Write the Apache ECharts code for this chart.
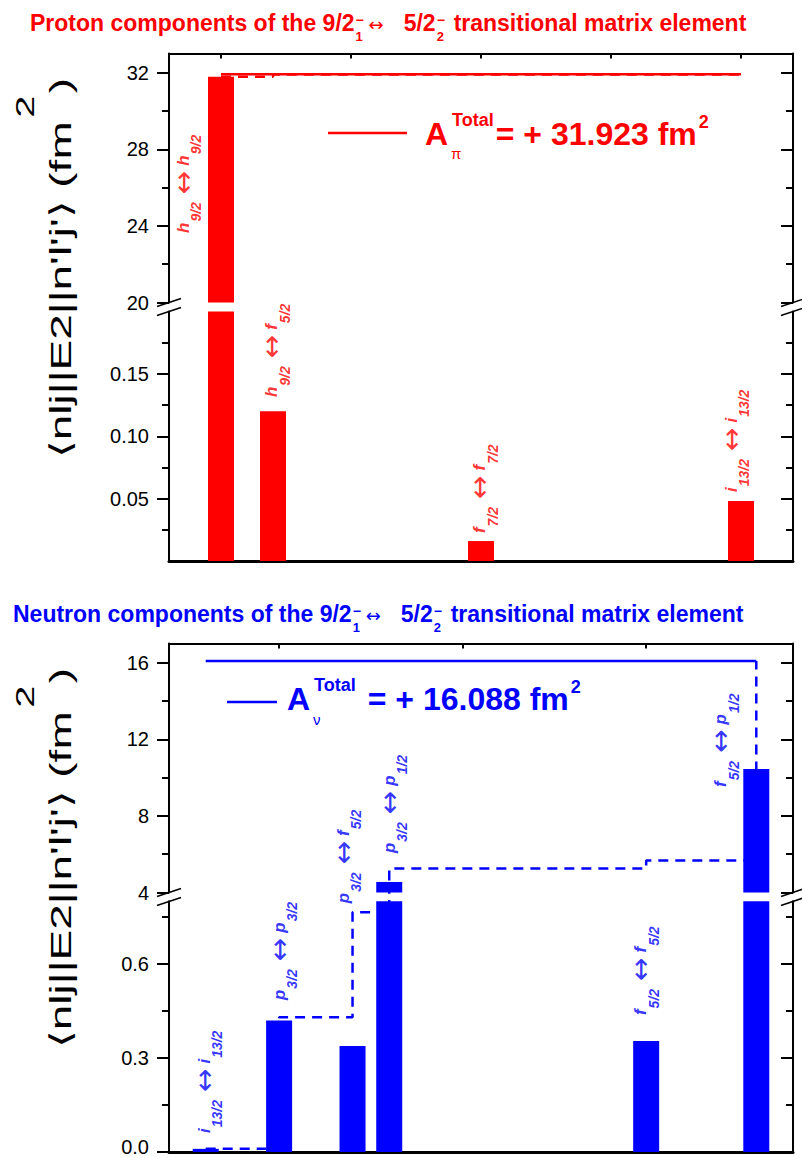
<!DOCTYPE html>
<html><head><meta charset="utf-8">
<script src="https://cdn.jsdelivr.net/npm/echarts@6/dist/echarts.min.js"></script>
<style>html,body{margin:0;padding:0;background:#fff}#c{width:802px;height:1158px}</style>
</head><body><div id="c"></div><script>
// ---------------- data ----------------
const protonX = [0, 2, 10, 20];
const protonValues = [31.79, 0.12, 0.016, 0.048];
const protonCumulative = [31.79, 31.90, 31.91, 31.923];
const protonTotal = 31.923;
const protonOrbitals = [['h','9/2','h','9/2'], ['h','9/2','f','5/2'], ['f','7/2','f','7/2'], ['i','13/2','i','13/2']];

const neutronX = [-2, 0, 2, 3, 10, 13];
const neutronValues = [0.01, 0.42, 0.338, 4.55, 0.354, 10.45];
const neutronCumulative = [0.01, 0.43, 0.765, 5.25, 5.67, 16.088];
const neutronTotal = 16.088;
const neutronOrbitals = [['i','13/2','i','13/2'], ['p','3/2','p','3/2'], ['p','3/2','f','5/2'], ['p','3/2','p','1/2'], ['f','5/2','f','5/2'], ['f','5/2','p','1/2']];

const protonUpperTicks = [20, 24, 28, 32];
const protonUpperMinor = [22, 26, 30];
const protonLowerTicks = [0.05, 0.10, 0.15];
const protonLowerMinor = [0.025, 0.075, 0.125, 0.175];
const neutronUpperTicks = [4, 8, 12, 16];
const neutronUpperMinor = [6, 10, 14];
const neutronLowerTicks = [0, 0.3, 0.6];
const neutronLowerMinor = [0.15, 0.45, 0.75];
const protonXTicks = [0, 5, 10, 15, 20];
const neutronXTicks = [0, 5, 10];

// ---------------- layout / style ----------------
const RED = '#ff0000', BLUE = '#0000ff';
const FF = '"Liberation Sans", Arial, Helvetica, sans-serif';
const FA = '"DejaVu Sans", sans-serif';

const panels = [
  { color: RED, xs: protonX, vals: protonValues, cum: protonCumulative, total: protonTotal, orb: protonOrbitals,
    xMin: -2, xMax: 22, xTicks: protonXTicks,
    parts: {
      upper: { top: 53.5, height: 249, min: 20, max: 33, ticks: protonUpperTicks, minor: protonUpperMinor, dec: 0 },
      lower: { top: 311.5, height: 249.5, min: 0, max: 0.2, ticks: protonLowerTicks, minor: protonLowerMinor, dec: 2 }
    },
    anchors: [[-1.46, 23.63, 'upper'], [1.95, 0.1314, 'lower'], [9.96, 0.0224, 'lower'], [19.62, 0.0553, 'lower']]
  },
  { color: BLUE, xs: neutronX, vals: neutronValues, cum: neutronCumulative, total: neutronTotal, orb: neutronOrbitals,
    xMin: -3, xMax: 14, xTicks: neutronXTicks,
    parts: {
      upper: { top: 643.5, height: 249, min: 4, max: 17, ticks: neutronUpperTicks, minor: neutronUpperMinor, dec: 0 },
      lower: { top: 901.3, height: 250.7, min: 0, max: 0.8, ticks: neutronLowerTicks, minor: neutronLowerMinor, dec: 1 }
    },
    anchors: [[-2.045, 0.0606, 'lower'], [0.0, 0.485, 'lower'], [1.75, 0.794, 'lower'], [3.0, 6.06, 'upper'], [9.85, 0.437, 'lower'], [12.03, 9.51, 'upper']]
  }
];

const ctx = document.createElement('canvas').getContext('2d');
function tw(t, font) { ctx.font = font; return ctx.measureText(t).width; }

function richLabel(o) { return '{m|' + o[0] + '}{s|' + o[1] + '}{a|\u2194}{m|' + o[2] + '}{s|' + o[3] + '}'; }
function richFor(color) {
  const base = { color: color, fontFamily: FF, fontWeight: 'bold', fontStyle: 'italic' };
  return {
    m: Object.assign({}, base, { fontSize: 17 }),
    s: Object.assign({}, base, { fontSize: 14, padding: [26, 3, 0, 1] }),
    a: { color: color, fontFamily: FA, fontSize: 28, fontWeight: 'normal', padding: [0, 5, 0, 5] }
  };
}

const grid = [], xAxis = [], yAxis = [], series = [];
const tickStyle = { color: '#000', width: 2 };

panels.forEach(function (P, pi) {
  ['upper', 'lower'].forEach(function (partName, k) {
    const part = P.parts[partName];
    const gi = pi * 2 + k;
    const isUp = partName === 'upper';
    grid.push({ left: 169, width: 624, top: part.top, height: part.height, containLabel: false, outerBoundsMode: 'none' });
    xAxis.push({ type: 'value', gridIndex: gi, min: P.xMin, max: P.xMax, position: isUp ? 'top' : 'bottom',
      axisLine: { show: true, onZero: false, lineStyle: { color: '#000', width: isUp ? 2 : 3 } },
      axisTick: isUp ? { show: true, inside: true, length: 5, customValues: P.xTicks, lineStyle: tickStyle } : { show: false },
      axisLabel: { show: false }, splitLine: { show: false } });
    const yb = { type: 'value', gridIndex: gi, min: part.min, max: part.max, splitLine: { show: false } };
    const isBottomMost = pi === 1 && !isUp;
    yAxis.push(Object.assign({}, yb, { position: 'left',
      axisLine: { show: true, onZero: false, lineStyle: { color: '#000', width: 2 } },
      axisTick: { show: true, inside: false, length: 12, customValues: part.ticks, lineStyle: tickStyle },
      axisLabel: { show: true, customValues: part.ticks, margin: 20, fontSize: 20, fontFamily: FF, color: '#000',
        rich: { z: { fontSize: 20, fontFamily: FF, color: '#000', padding: [0, 0, 10, 0] } },
        formatter: function (v) {
          const s = (+v).toFixed(part.dec);
          return (isBottomMost && +v === 0) ? '{z|' + s + '}' : s;
        } } }));
    yAxis.push(Object.assign({}, yb, { position: 'left',
      axisLine: { show: false, onZero: false },
      axisTick: { show: true, inside: false, length: 7, customValues: part.minor, lineStyle: tickStyle },
      axisLabel: { show: false } }));
    yAxis.push(Object.assign({}, yb, { position: 'right',
      axisLine: { show: true, onZero: false, lineStyle: { color: '#000', width: 2 } },
      axisTick: { show: true, inside: true, length: 12, customValues: part.ticks, lineStyle: tickStyle },
      axisLabel: { show: false } }));
    yAxis.push(Object.assign({}, yb, { position: 'right',
      axisLine: { show: false, onZero: false },
      axisTick: { show: true, inside: true, length: 7, customValues: part.minor, lineStyle: tickStyle },
      axisLabel: { show: false } }));
    const yi = gi * 4;
    series.push({ type: 'line', xAxisIndex: gi, yAxisIndex: yi, step: 'end', symbol: 'none', clip: true, silent: true, z: 2,
      data: P.xs.map(function (x, i) { return [x, P.cum[i]]; }),
      lineStyle: { color: P.color, width: 2.5, type: [10, 7] } });
    series.push({ type: 'line', xAxisIndex: gi, yAxisIndex: yi, symbol: 'none', clip: true, silent: true, z: 3,
      data: [[P.xs[0], P.total], [P.xs[P.xs.length - 1], P.total]],
      lineStyle: { color: P.color, width: 2.5, type: 'solid' } });
    series.push({ type: 'bar', xAxisIndex: gi, yAxisIndex: yi, barWidth: 26, clip: true, silent: true, z: 4,
      data: P.xs.map(function (x, i) { return [x, P.vals[i]]; }).filter(function (d) { return d[1] > part.min; }),
      itemStyle: { color: P.color } });
    const pts = P.anchors.map(function (a, i) { return { a: a, i: i }; }).filter(function (o) { return o.a[2] === partName; });
    if (pts.length) {
      series.push({ type: 'scatter', xAxisIndex: gi, yAxisIndex: yi, symbolSize: 1, silent: true, z: 6,
        itemStyle: { color: 'rgba(0,0,0,0)' },
        data: pts.map(function (o) { return { value: [o.a[0], o.a[1]], orb: P.orb[o.i] }; }),
        label: { show: true, position: 'inside', align: 'left', verticalAlign: 'middle', rotate: 90,
          color: P.color, textBorderWidth: 0, fontFamily: FF,
          formatter: function (p) { return richLabel(p.data.orb); }, rich: richFor(P.color) } });
    }
  });
});

// ---------------- annotations ----------------
function T(x, y, text, size, weight, color, extra, family) {
  return Object.assign({ type: 'text', x: x, y: y, silent: true, z: 100,
    style: { text: text, fontSize: size, fontWeight: weight, fontFamily: family || FF, fill: color, align: 'left', verticalAlign: 'middle' } }, extra || {});
}
function titleEls(x0, yc, lead, color) {
  const bf = function (s) { return 'bold ' + s + 'px ' + FF; };
  const els = [];
  const t1 = lead + ' 9/2';
  els.push(T(x0, yc, t1, 23, 'bold', color));
  let x = x0 + tw(t1, bf(23)) + 1;
  els.push(T(x, yc - 3, '\u2212', 14, 'bold', color));
  els.push(T(x, yc + 13.5, '1', 13, 'bold', color));
  x += 13;
  els.push(T(x, yc + 1.5, '\u2194', 18, 'normal', color, null, FA));
  x += tw('\u2194', '18px ' + FA) + 20;
  els.push(T(x, yc, '5/2', 23, 'bold', color));
  x += tw('5/2', bf(23)) + 1;
  els.push(T(x, yc - 3, '\u2212', 14, 'bold', color));
  els.push(T(x, yc + 13.5, '2', 13, 'bold', color));
  x += 17;
  els.push(T(x, yc, 'transitional matrix element', 23, 'bold', color));
  return els;
}
function yTitleEls(xc, yc, len) {
  const main = "\u27E8nlj||E2||n'l'j'\u27E9 (fm";
  const f30 = '30px ' + FF, f26 = '26px ' + FF;
  const w1 = tw(main, f30), w2 = tw('2', f26) + 3, w3 = tw(')', f30);
  const s = len / (w1 + w2 + w3);
  const yb = yc + len / 2;
  function mk(d, dx, text, size, align) {
    return { type: 'text', x: xc + dx, y: yb - d, rotation: Math.PI / 2, scaleX: s, silent: true, z: 100,
      style: { text: text, fontSize: size, fontFamily: FF, fill: '#000', align: align, verticalAlign: 'middle' } };
  }
  return [mk(0, 0, main, 30, 'left'), mk((w1 + w2 / 2) * s, -36, '2', 26, 'center'), mk((w1 + w2 + w3 / 2) * s, 0, ')', 30, 'center')];
}
function legendEls(lineX1, lineX2, lineY, ax, yc, sym, total, color) {
  const els = [];
  els.push({ type: 'line', silent: true, z: 100, shape: { x1: lineX1, y1: lineY, x2: lineX2, y2: lineY }, style: { stroke: color, lineWidth: 2.5 } });
  els.push(T(ax, yc, 'A', 32, 'bold', color));
  const tx = ax + tw('A', 'bold 32px ' + FF) + 4;
  els.push(T(tx, yc - 14, 'Total', 18, 'bold', color));
  els.push(T(tx - 1, yc + 20, sym, 15, 'normal', color));
  const vx = tx + tw('Total', 'bold 18px ' + FF) + (sym === '\u03C0' ? 2 : 12);
  const vt = '= + ' + total.toFixed(3) + ' fm';
  els.push(T(vx, yc, vt, 32, 'bold', color));
  els.push(T(vx + tw(vt, 'bold 32px ' + FF) + 2, yc - 12, '2', 18, 'bold', color));
  return els;
}
function breakMarks(yc) {
  const els = [];
  [169, 793].forEach(function (x) {
    [-4.5, 4.5].forEach(function (d) {
      els.push({ type: 'line', silent: true, z: 100, shape: { x1: x - 12, y1: yc + d + 4, x2: x + 12, y2: yc + d - 4 }, style: { stroke: '#000', lineWidth: 1.6 } });
    });
  });
  return els;
}

const elements = [].concat(
  titleEls(30, 22.5, 'Proton components of the', RED),
  titleEls(13, 613.5, 'Neutron components of the', BLUE),
  yTitleEls(61, 268, 380), yTitleEls(61, 858, 380),
  legendEls(328, 407, 133, 425, 133.5, '\u03C0', protonTotal, RED),
  legendEls(227, 277, 702, 287, 699, '\u03BD', neutronTotal, BLUE),
  breakMarks(307), breakMarks(896.9)
);

const chart = echarts.init(document.getElementById('c'), null, { renderer: 'svg' });
chart.setOption({
  animation: false,
  backgroundColor: '#fff',
  textStyle: { fontFamily: FF },
  grid: grid, xAxis: xAxis, yAxis: yAxis, series: series,
  graphic: { elements: elements }
});
</script></body></html>
